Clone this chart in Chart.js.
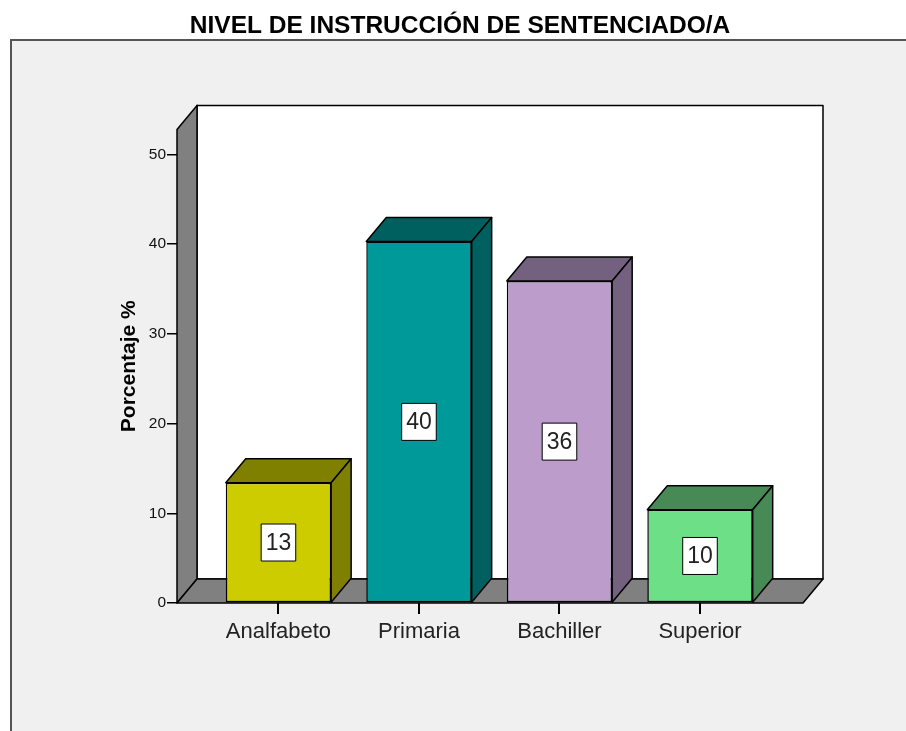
<!DOCTYPE html>
<html>
<head>
<meta charset="utf-8">
<script src="https://cdn.jsdelivr.net/npm/chart.js@4.4.0/dist/chart.umd.min.js"></script>
<style>
  html, body { margin: 0; padding: 0; background: #fff; }
</style>
</head>
<body>
<canvas id="chart" width="906" height="731"></canvas>
<script>
const categories = ["Analfabeto", "Primaria", "Bachiller", "Superior"];
const percentages = [13.4, 40.3, 35.9, 10.4];
const yTicks = [0, 10, 20, 30, 40, 50];
const yMax = 52.8;
const frontColors = ["#cccc00", "#009999", "#bb9ccb", "#6ddf86"];
const sideColors = ["#808000", "#005f5f", "#74617f", "#478a55"];

// 3D offset of the back plane
const depth = { dx: 20, dy: -24 };

Chart.defaults.font.family = "'Liberation Sans', Arial, sans-serif";
Chart.defaults.color = "#222";

function poly(ctx, pts, fill) {
  ctx.beginPath();
  ctx.moveTo(pts[0][0], pts[0][1]);
  for (let i = 1; i < pts.length; i++) ctx.lineTo(pts[i][0], pts[i][1]);
  ctx.closePath();
  ctx.fillStyle = fill;
  ctx.fill();
  ctx.stroke();
}

const frame = {
  id: "frame",
  beforeDraw(chart) {
    const { ctx, width, height } = chart;
    ctx.save();
    ctx.fillStyle = "#f0f0f0";
    ctx.fillRect(10, 40, width - 10, height - 40);
    ctx.strokeStyle = "#555";
    ctx.lineWidth = 2;
    ctx.beginPath();
    ctx.moveTo(11, height);
    ctx.lineTo(11, 40);
    ctx.lineTo(width, 40);
    ctx.stroke();
    ctx.restore();
  },
};

const walls = {
  id: "walls",
  beforeDatasetsDraw(chart) {
    const { ctx } = chart;
    const { left, right, top, bottom } = chart.chartArea;
    const { dx, dy } = depth;
    ctx.save();
    ctx.strokeStyle = "#000";
    ctx.lineWidth = 1.5;
    ctx.lineJoin = "round";
    poly(ctx, [[left + dx, top + dy], [right + dx, top + dy], [right + dx, bottom + dy], [left + dx, bottom + dy]], "#fff");
    poly(ctx, [[left, top], [left + dx, top + dy], [left + dx, bottom + dy], [left, bottom]], "#808080");
    poly(ctx, [[left, bottom], [left + dx, bottom + dy], [right + dx, bottom + dy], [right, bottom]], "#808080");
    ctx.restore();
  },
  afterDatasetsDraw(chart) {
    const { ctx } = chart;
    const { dx, dy } = depth;
    const meta = chart.getDatasetMeta(0);
    ctx.save();
    ctx.strokeStyle = "#000";
    ctx.lineWidth = 1.5;
    ctx.lineJoin = "round";
    meta.data.forEach((bar, i) => {
      const { x, y, base, width } = bar.getProps(["x", "y", "base", "width"], true);
      const x0 = x - width / 2;
      const x1 = x + width / 2;
      poly(ctx, [[x0, y], [x0 + dx, y + dy], [x1 + dx, y + dy], [x1, y]], sideColors[i]);
      poly(ctx, [[x1, y], [x1 + dx, y + dy], [x1 + dx, base + dy], [x1, base]], sideColors[i]);

      const label = String(Math.round(percentages[i]));
      ctx.font = "23px 'Liberation Sans', Arial, sans-serif";
      const tw = ctx.measureText(label).width;
      const bw = tw + 9;
      const bh = 37;
      const cy = (y + base) / 2;
      ctx.fillStyle = "#fff";
      ctx.lineWidth = 1;
      ctx.fillRect(x - bw / 2, cy - bh / 2, bw, bh);
      ctx.strokeRect(x - bw / 2, cy - bh / 2, bw, bh);
      ctx.fillStyle = "#222";
      ctx.textAlign = "center";
      ctx.textBaseline = "middle";
      ctx.fillText(label, x, cy + 1);
      ctx.lineWidth = 1.5;
    });
    ctx.restore();
  },
};

new Chart(document.getElementById("chart"), {
  type: "bar",
  data: {
    datasets: [
      {
        data: percentages.map((v, i) => ({ x: i, y: v })),
        backgroundColor: frontColors,
        borderColor: "#000",
        borderWidth: 1.5,
        borderSkipped: false,
        barPercentage: 0.75,
        categoryPercentage: 1,
      },
    ],
  },
  options: {
    responsive: false,
    animation: false,
    layout: { padding: { left: 117, right: 103, top: 0, bottom: 88 } },
    plugins: {
      legend: { display: false },
      tooltip: { enabled: false },
      title: {
        display: true,
        text: "NIVEL DE INSTRUCCIÓN DE SENTENCIADO/A",
        color: "#000",
        font: { size: 24.5, weight: "bold" },
        padding: { top: 12, bottom: 88 },
      },
    },
    scales: {
      x: {
        type: "linear",
        offset: false,
        min: -0.722,
        max: 3.733,
        afterBuildTicks(scale) {
          scale.ticks = categories.map((_, i) => ({ value: i }));
        },
        afterFit(scale) {
          scale.height = 40;
        },
        border: { display: false },
        grid: { offset: false, drawOnChartArea: false, tickLength: 11, color: "#000", lineWidth: 2 },
        ticks: {
          autoSkip: false,
          maxRotation: 0,
          padding: 5,
          color: "#222",
          font: { size: 22 },
          callback: (v) => categories[v],
        },
      },
      y: {
        min: 0,
        max: yMax,
        afterBuildTicks(scale) {
          scale.ticks = yTicks.map((v) => ({ value: v }));
        },
        afterFit(scale) {
          scale.width = 60;
        },
        border: { display: false },
        grid: { drawOnChartArea: false, tickLength: 10, color: "#000", lineWidth: 1.5 },
        ticks: { padding: 1, color: "#111", font: { size: 15.5 } },
        title: {
          display: true,
          text: "Porcentaje %",
          color: "#000",
          font: { size: 21, weight: "bold" },
          padding: 0,
        },
      },
    },
  },
  plugins: [frame, walls],
});
</script>
</body>
</html>
